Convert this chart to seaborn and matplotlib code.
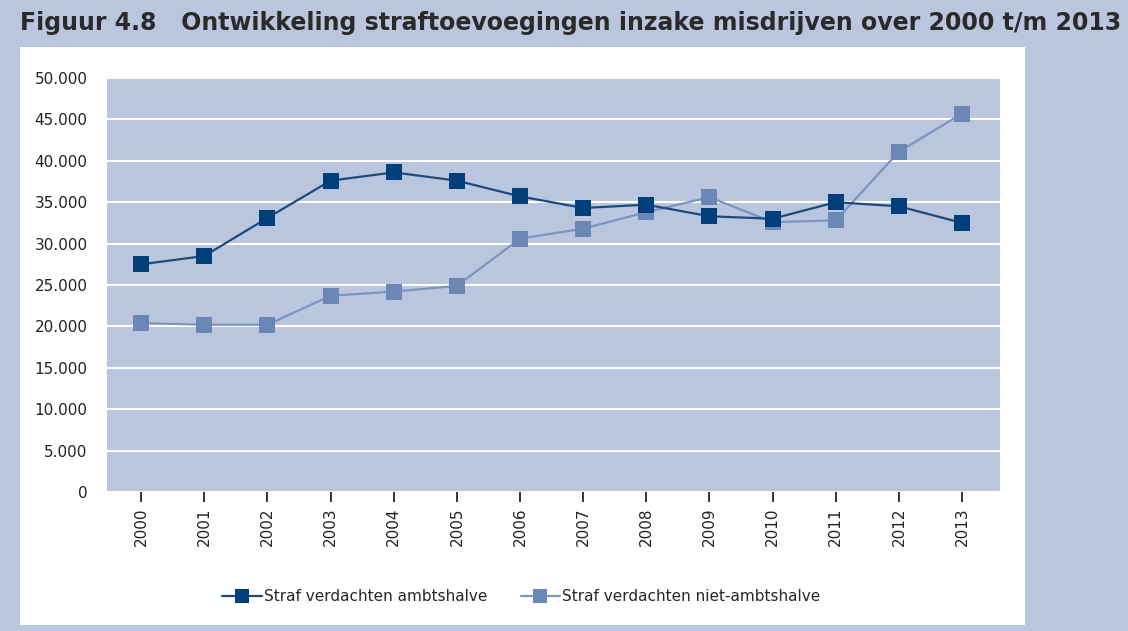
import pandas as pd
import matplotlib
matplotlib.use('Agg')
import matplotlib.pyplot as plt
import matplotlib.ticker as mticker
from matplotlib.patches import Rectangle
import seaborn as sns

# data
years = [str(y) for y in range(2000, 2014)]
ambtshalve = [27500, 28500, 33100, 37600, 38600, 37600, 35700,
              34300, 34700, 33300, 33000, 35000, 34500, 32500]
niet_ambtshalve = [20400, 20200, 20200, 23700, 24200, 24900, 30600,
                   31800, 33800, 35600, 32600, 32800, 41100, 45700]
labels = ['Straf verdachten ambtshalve', 'Straf verdachten niet-ambtshalve']

df = pd.DataFrame({
    'jaar': years * 2,
    'waarde': ambtshalve + niet_ambtshalve,
    'reeks': [labels[0]] * len(years) + [labels[1]] * len(years),
})

bg = '#b9c6de'
sns.set_style('white')
plt.rcParams['font.family'] = ['DejaVu Sans']

fig = plt.figure(figsize=(11.28, 6.31), dpi=100, facecolor=bg)
# white panel behind the chart
fig.patches.append(Rectangle((0.0177, 0.0095), 0.891, 0.916, transform=fig.transFigure,
                             facecolor='white', edgecolor='none', zorder=-1))
ax = fig.add_axes([0.0949, 0.2203, 0.7916, 0.6561])
ax.set_facecolor(bg)

sns.lineplot(data=df, x='jaar', y='waarde', hue='reeks', style='reeks',
             markers=['s', 's'], dashes=False, sort=False,
             palette=['#1d4a7c', '#7b95bf'], linewidth=1.6,
             markersize=11, markeredgewidth=0, ax=ax, legend=False)
# marker colours differ slightly from the lines
ax.lines[0].set_markerfacecolor('#003f7a')
ax.lines[1].set_markerfacecolor('#6a87b5')
ax.lines[0].set_zorder(4)
ax.lines[1].set_zorder(3)

ax.set_ylim(0, 50000)
ax.set_xlim(-0.54, 13.6)
ax.yaxis.set_major_locator(mticker.MultipleLocator(5000))
ax.yaxis.set_major_formatter(mticker.FuncFormatter(lambda v, p: f'{int(v):,}'.replace(',', '.')))
ax.grid(axis='y', color='white', linewidth=1.5)
ax.set_axisbelow(True)
for s in ax.spines.values():
    s.set_visible(False)
ax.set_xlabel('')
ax.set_ylabel('')
ax.tick_params(axis='y', length=0, labelsize=11, pad=14, colors='#222222')
ax.tick_params(axis='x', bottom=True, length=7, width=1.3, labelsize=11,
               labelrotation=90, pad=4, colors='#222222')

handles = [plt.Line2D([], [], color='#1d4a7c', linewidth=1.6, marker='s', markersize=10,
                      markerfacecolor='#003f7a', markeredgewidth=0),
           plt.Line2D([], [], color='#7b95bf', linewidth=1.6, marker='s', markersize=10,
                      markerfacecolor='#6a87b5', markeredgewidth=0)]
fig.legend(handles, labels, loc='center', bbox_to_anchor=(0.462, 0.054), ncol=2,
           frameon=False, fontsize=11, handlelength=2.6, handletextpad=0.1,
           columnspacing=2.2)

fig.text(0.0177, 0.963, 'Figuur 4.8   Ontwikkeling straftoevoegingen inzake misdrijven over 2000 t/m 2013',
         fontsize=17, fontweight='bold', color='#2a2a2a', va='center', ha='left')

fig.savefig('out.png', dpi=100, facecolor=bg)
